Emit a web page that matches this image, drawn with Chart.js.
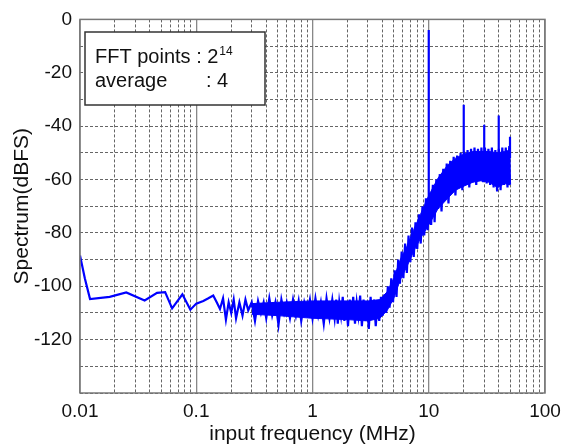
<!DOCTYPE html>
<html>
<head>
<meta charset="utf-8">
<script src="https://cdn.jsdelivr.net/npm/chart.js@4"></script>
<style>
  html, body { margin: 0; padding: 0; background: #fff; }
  #wrap { width: 562px; height: 447px; }
</style>
</head>
<body>
<div id="wrap"><canvas id="myChart" width="562" height="447"></canvas></div>
<script>
// low-frequency part of the spectrum (MHz / dBFS)
var lowFreq = [0.01, 0.011, 0.0122, 0.018, 0.025, 0.036, 0.046, 0.054, 0.062, 0.076, 0.089, 0.1, 0.115, 0.126, 0.14];
var lowDb = [-88.5, -97, -104.8, -104, -102.3, -105.3, -102.5, -102.2, -108.3, -103, -108.8, -106.5, -105.5, -104.6, -103.5];

// noisy part, 0.15 .. 50 MHz
var bandFreq = [
  0.15, 0.16, 0.17, 0.18, 0.19, 0.2, 0.21, 0.22, 0.235, 0.25,
  0.265, 0.28, 0.3, 0.32, 0.34, 0.36, 0.38, 0.4, 0.425, 0.45,
  0.48, 0.51, 0.54, 0.57, 0.6, 0.64, 0.68, 0.72, 0.76, 0.8,
  0.85, 0.9, 0.95, 1.0, 1.06, 1.12, 1.18, 1.25, 1.32, 1.4,
  1.48, 1.55, 1.6, 1.65, 1.7, 1.76, 1.82, 1.88, 1.95, 2.02,
  2.09, 2.16, 2.24, 2.32, 2.4, 2.48, 2.57, 2.66, 2.75, 2.85,
  2.95, 3.05, 3.16, 3.27, 3.38, 3.5, 3.62, 3.75, 3.88, 4.02,
  4.16, 4.3, 4.45, 4.6, 4.76, 4.93, 5.1, 5.28, 5.46, 5.65,
  5.85, 6.05, 6.26, 6.48, 6.7, 6.94, 7.18, 7.43, 7.69, 7.96,
  8.24, 8.53, 8.83, 9.14, 9.46, 9.79, 10.13, 10.48, 10.85, 11.23,
  11.62, 12.03, 12.45, 12.88, 13.33, 13.8, 14.28, 14.78, 15.3, 15.83,
  16.38, 16.96, 17.55, 18.16, 18.8, 19.46, 20.14, 20.84, 21.57, 22.33,
  23.11, 23.92, 24.75, 25.62, 26.52, 27.44, 28.4, 29.4, 30.43, 31.49,
  32.59, 33.73, 34.91, 36.14, 37.4, 38.71, 40.06, 41.47, 42.92, 44.42,
  45.97, 47.58, 49.25, 50
];
var bandDb = [
  -106, -108.5, -104.5, -112.5, -106, -110, -105, -112, -106, -111,
  -105, -109, -106, -113, -105.5, -110, -106, -112, -104.5, -111,
  -106, -114.5, -105, -110, -106, -112, -105, -111, -105.5, -113,
  -106, -110, -105, -112, -104.5, -111, -106, -114, -104.5, -112,
  -105, -112, -105, -114, -106, -111, -104, -113, -106, -115,
  -105, -112, -104, -114, -106, -111, -103.5, -115, -105, -113,
  -106, -116, -104, -112, -105, -115, -106, -113, -104, -111,
  -103, -110, -100, -108, -97, -106, -94, -104, -90, -99,
  -87, -97, -84, -95, -81, -91, -78, -89, -76, -86,
  -73, -84, -70, -81, -67, -79, -65, -77, -62, -76,
  -60, -71, -58, -72, -56, -67, -54, -69, -53, -65,
  -51.5, -66, -51, -63, -50, -64, -49.5, -62, -49, -63,
  -48.5, -61, -48, -62, -48.5, -60.5, -48, -61, -48, -61.5,
  -48.5, -62, -48, -63, -49, -64.5, -48.5, -64, -48, -62,
  -48, -63, -47.5, -62
];

// solid core of the noise band (where the trace is too dense to see through)
var coreFreq = [0.3, 0.5, 1, 2, 3, 3.8, 4.4, 5, 5.7, 6.5, 7.4, 8.5, 10, 12, 14.6, 17, 20, 24, 28, 33, 39, 45, 50];
var coreTop = [-106.5, -106, -105.5, -105.5, -105.5, -105, -102, -97, -90, -85, -79, -73, -66, -59.5, -54.5, -52, -50.5, -49.5, -49.5, -49.5, -50, -49.5, -49];
var coreBot = [-110.5, -111, -112, -112.5, -113, -112, -109, -104.5, -97.5, -92.5, -87, -82, -77, -71, -67, -64, -62.5, -61, -60.5, -61, -63, -61.5, -62];

// harmonic spurs
var spikeFreq = [10, 20, 30, 40, 50];
var spikeTop = [-4, -32, -39.5, -36, -44];
var spikeBase = [-68, -52, -50, -50, -52];

var xMajor = [0.01, 0.1, 1, 10, 100];
var xLabels = ['0.01', '0.1', '1', '10', '100'];
var xMinorMult = [2, 3, 4, 5, 6, 7, 8, 9];

var allDb = lowDb.concat(bandDb);
var spectrum = lowFreq.concat(bandFreq).map(function(f, i) {
  return { x: f, y: allDb[i] };
});
var spurs = [];
spikeFreq.forEach(function(f, i) {
  spurs.push({ x: f, y: spikeBase[i] }, { x: f, y: spikeTop[i] }, { x: f, y: null });
});
var coreUpper = coreFreq.map(function(f, i) { return { x: f, y: coreTop[i] }; });
var coreLower = coreFreq.map(function(f, i) { return { x: f, y: coreBot[i] }; });
var xMinor = [];
xMajor.slice(0, 4).forEach(function(d) {
  xMinorMult.forEach(function(m) { xMinor.push(d * m); });
});

var frameAndNote = {
  id: 'frameAndNote',
  afterDraw: function(chart) {
    var ctx = chart.ctx, a = chart.chartArea;
    ctx.save();
    ctx.strokeStyle = '#777';
    ctx.lineWidth = 1.5;
    ctx.strokeRect(a.left, a.top, a.right - a.left, a.bottom - a.top);
    // note box
    ctx.fillStyle = '#fff';
    ctx.fillRect(85, 32, 180, 73);
    ctx.strokeStyle = '#333';
    ctx.lineWidth = 1.5;
    ctx.strokeRect(85, 32, 180, 73);
    ctx.fillStyle = '#111';
    ctx.font = '20px "Liberation Sans", Arial, sans-serif';
    ctx.textBaseline = 'alphabetic';
    ctx.fillText('FFT points : 2', 95, 63);
    var w = ctx.measureText('FFT points : 2').width;
    ctx.fillText('average', 95, 87);
    ctx.fillText(': 4', 206, 87);
    ctx.font = '12px "Liberation Sans", Arial, sans-serif';
    ctx.fillText('14', 95 + w + 1, 55);
    ctx.restore();
  }
};

var ctx = document.getElementById('myChart').getContext('2d');
var myChart = new Chart(ctx, {
  type: 'line',
  data: {
    datasets: [{
      data: coreLower,
      borderColor: '#0000ff',
      borderWidth: 1,
      pointRadius: 0,
      fill: false
    }, {
      data: coreUpper,
      borderColor: '#0000ff',
      backgroundColor: '#0000ff',
      borderWidth: 1,
      pointRadius: 0,
      fill: '-1'
    }, {
      data: spectrum,
      borderColor: '#0000ff',
      borderWidth: 2.2,
      pointRadius: 0,
      tension: 0
    }, {
      data: spurs,
      borderColor: '#0000ff',
      borderWidth: 2.2,
      pointRadius: 0,
      spanGaps: false
    }]
  },
  options: {
    responsive: false,
    animation: false,
    layout: { padding: { top: 13, right: 17, left: 0, bottom: 0 } },
    plugins: { legend: { display: false }, tooltip: { enabled: false } },
    scales: {
      x: {
        type: 'logarithmic',
        position: 'bottom',
        min: 0.01,
        max: 100,
        afterBuildTicks: function(s) { s.ticks = xMajor.map(function(v) { return { value: v }; }); },
        afterFit: function(s) { s.height = 54; s.paddingLeft = 0; s.paddingRight = 0; },
        ticks: {
          autoSkip: false,
          maxRotation: 0,
          padding: 7,
          color: '#111',
          font: { family: '"Liberation Sans", Arial, sans-serif', size: 19 },
          callback: function(v, i) { return xLabels[i]; }
        },
        grid: { color: '#888', lineWidth: 1.3, drawTicks: false },
        border: { display: false },
        title: {
          display: true,
          text: 'input frequency (MHz)',
          color: '#111',
          padding: { top: 0, bottom: 0 },
          font: { family: '"Liberation Sans", Arial, sans-serif', size: 21 }
        }
      },
      x2: {
        type: 'logarithmic',
        position: 'bottom',
        min: 0.01,
        max: 100,
        afterBuildTicks: function(s) { s.ticks = xMinor.map(function(v) { return { value: v }; }); },
        afterFit: function(s) { s.height = 0; s.paddingLeft = 0; s.paddingRight = 0; },
        ticks: { display: false },
        grid: { color: '#666', lineWidth: 1, drawTicks: false },
        border: { display: false, dash: [3, 2] }
      },
      y: {
        min: -140,
        max: 0,
        afterFit: function(s) { s.width = 80; },
        ticks: {
          stepSize: 10,
          padding: 8,
          color: '#111',
          font: { family: '"Liberation Sans", Arial, sans-serif', size: 19 },
          callback: function(v) { return (v % 20 === 0 && v > -140) ? String(v) : ''; }
        },
        grid: { color: '#666', lineWidth: 1, drawTicks: false },
        border: { display: false, dash: [3, 2] },
        title: {
          display: true,
          text: 'Spectrum(dBFS)',
          color: '#111',
          padding: { top: 10, bottom: 0 },
          font: { family: '"Liberation Sans", Arial, sans-serif', size: 21 }
        }
      }
    }
  },
  plugins: [frameAndNote]
});
</script>
</body>
</html>
